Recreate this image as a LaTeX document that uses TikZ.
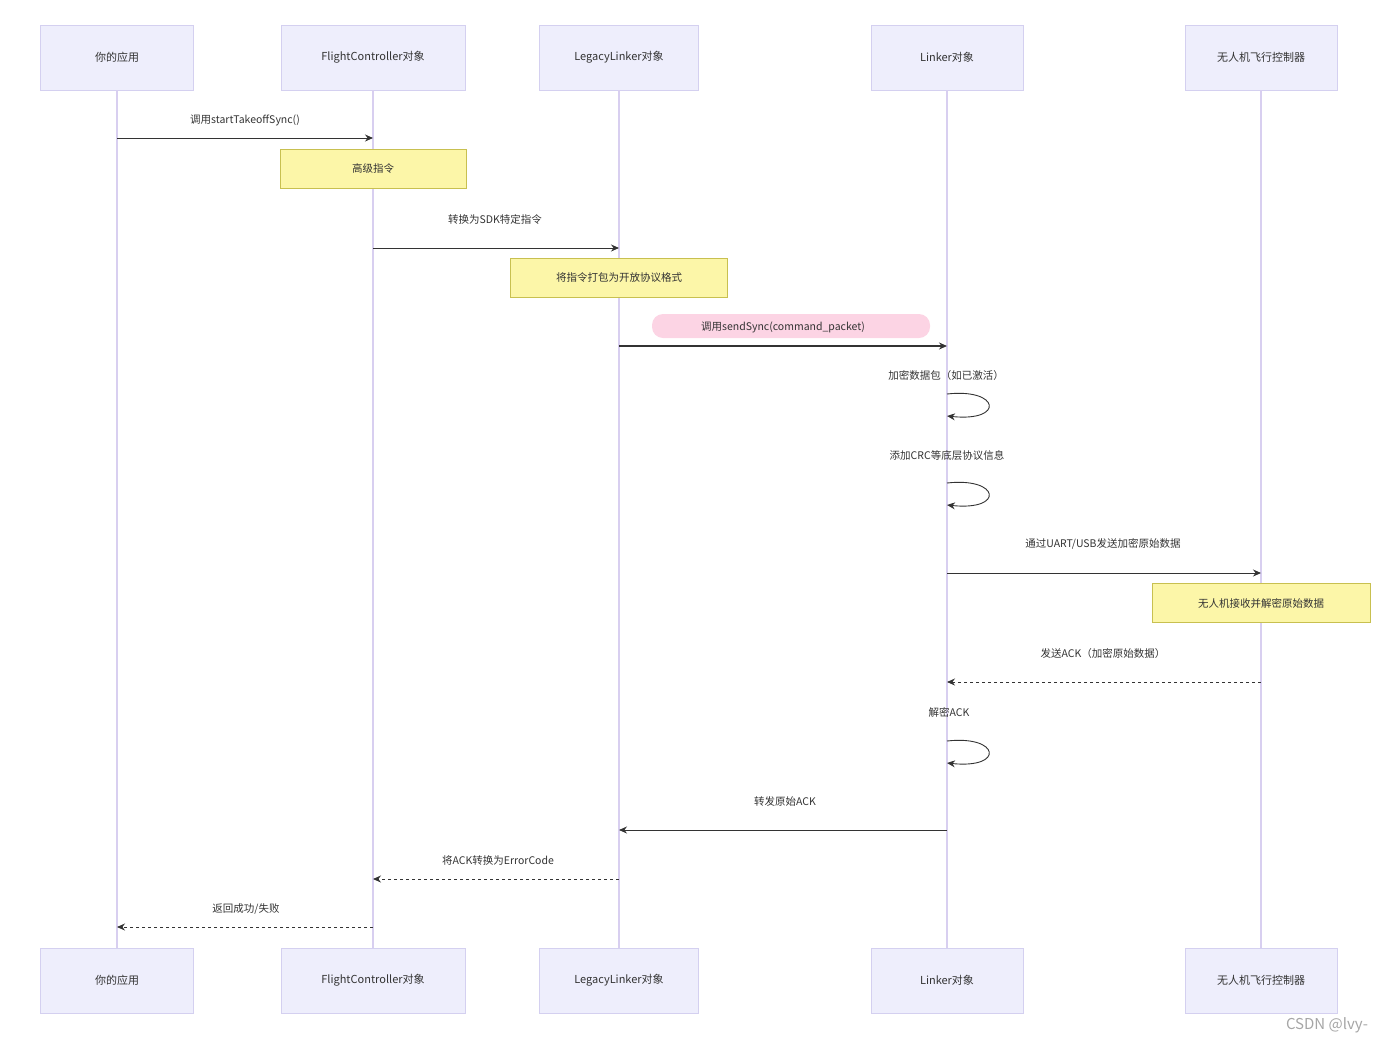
\documentclass[tikz,border=0pt]{standalone}
\usepackage{fontspec}
\setmainfont{Noto Sans CJK SC}
\usetikzlibrary{arrows.meta}
\definecolor{actf}{HTML}{EEEEFC}
\definecolor{actd}{HTML}{D4D0F0}
\definecolor{life}{HTML}{D8CFF0}
\definecolor{notef}{HTML}{FCF6A8}
\definecolor{noted}{HTML}{C8C050}
\definecolor{pinkf}{HTML}{FCD4E4}
\definecolor{txt}{HTML}{333333}
\begin{document}
\begin{tikzpicture}[x=1pt,y=-1pt,
 actor/.style={draw=actd,fill=actf,minimum height=65pt,font=\fontsize{11}{13}\selectfont,text=txt,inner sep=0},
 note/.style={draw=noted,fill=notef,minimum height=39pt,font=\fontsize{10.5}{12}\selectfont,text=txt,inner sep=0},
 lab/.style={font=\fontsize{10.5}{12}\selectfont,text=txt},
 msg/.style={draw=txt,line width=0.9pt,-{Stealth[length=8pt,width=7pt]}},
 ret/.style={msg,dashed},
 life/.style={draw=life,line width=1.5pt}]
\useasboundingbox (0,0) rectangle (1400,1050);
\foreach \n/\x/\w/\t in {a/117/153/你的应用,b/373/184/FlightController对象,c/619/159/LegacyLinker对象,d/947/152/Linker对象,e/1261/152/无人机飞行控制器}{
 \node[actor,minimum width=\w pt] (\n t) at (\x,57.5) {\t};
 \node[actor,minimum width=\w pt] (\n b) at (\x,980.5) {\t};
 \draw[life] (\n t.south) -- (\n b.north);
}
% coordinates on lifelines
\foreach \n/\x in {a/117,b/373,c/619,d/947,e/1261}{
 \foreach \y in {138,248,346,573,682,830,879,927}{\coordinate (\n\y) at (\x,\y);}
}
\draw[msg] (a138) -- (b138);
\node[lab] (l1) at (245,120) {调用startTakeoffSync()};
\node[note,minimum width=186pt] (n1) at (373,168.5) {高级指令};
\draw[msg] (b248) -- (c248);
\node[lab] (l2) at (495,219) {转换为SDK特定指令};
\node[note,minimum width=217pt] (n2) at (619,278) {将指令打包为开放协议格式};
\node[fill=pinkf,rounded corners=11pt,minimum width=278pt,minimum height=24pt] (pk) at (791,326) {};
\node[lab] (l3) at (783,327) {调用sendSync(command\_packet)};
\draw[msg,line width=1.4pt] (c346) -- (d346);
\node[lab] (l4) at (946,376) {加密数据包（如已激活）};
\coordinate (s1) at (947,394); \coordinate (s1e) at (947,416);
\draw[msg] (s1) .. controls (1000,388) and (1005,422) .. (s1e);
\node[lab] (l5) at (947,455) {添加CRC等底层协议信息};
\coordinate (s2) at (947,483); \coordinate (s2e) at (947,505);
\draw[msg] (s2) .. controls (1000,477) and (1005,511) .. (s2e);
\draw[msg] (d573) -- (e573);
\node[lab] (l6) at (1103,544) {通过UART/USB发送加密原始数据};
\node[note,minimum width=218pt] (n3) at (1261,603) {无人机接收并解密原始数据};
\draw[ret] (e682) -- (d682);
\node[lab] (l7) at (1103,653) {发送ACK（加密原始数据）};
\node[lab] (l8) at (949,712) {解密ACK};
\coordinate (s3) at (947,741); \coordinate (s3e) at (947,763);
\draw[msg] (s3) .. controls (1000,735) and (1005,769) .. (s3e);
\draw[msg] (d830) -- (c830);
\node[lab] (l9) at (785,801) {转发原始ACK};
\draw[ret] (c879) -- (b879);
\node[lab] (l10) at (498,860) {将ACK转换为ErrorCode};
\draw[ret] (b927) -- (a927);
\node[lab] (l11) at (246,909) {返回成功/失败};
\node[font=\fontsize{15}{17}\selectfont,text=gray!70] (wm) at (1327,1025) {CSDN @lvy-};
\end{tikzpicture}
\end{document}
